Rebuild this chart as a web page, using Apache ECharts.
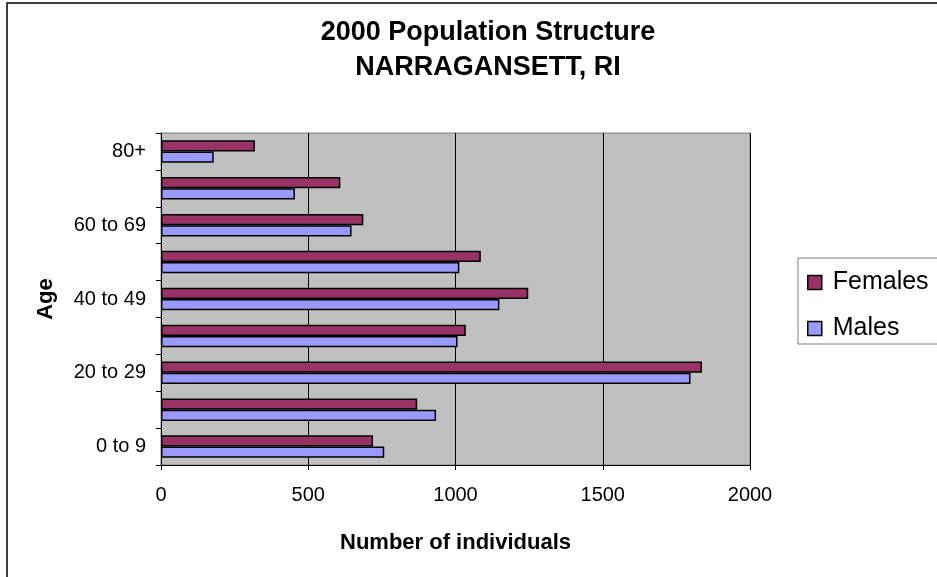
<!DOCTYPE html>
<html>
<head>
<meta charset="utf-8">
<script src="https://cdn.jsdelivr.net/npm/echarts@6/dist/echarts.min.js"></script>
<style>
  html, body { margin: 0; padding: 0; background: #ffffff; }
  #chart { width: 937px; height: 577px; }
</style>
</head>
<body>
<div id="chart"></div>
<script>
// Age groups, youngest at the bottom of the axis
const ageGroups = ['0 to 9', '10 to 19', '20 to 29', '30 to 39', '40 to 49', '50 to 59', '60 to 69', '70 to 79', '80+'];
const females = [720, 870, 1837, 1035, 1247, 1086, 687, 609, 319];
const males = [758, 934, 1798, 1007, 1149, 1013, 647, 455, 179];
const xTicks = [0, 500, 1000, 1500, 2000];

const FONT = '"Liberation Sans", Arial, sans-serif';

const chart = echarts.init(document.getElementById('chart'), null, { renderer: 'canvas' });

chart.setOption({
  backgroundColor: '#ffffff',
  animation: false,
  graphic: [{
    type: 'rect',
    shape: { x: 7, y: 3, width: 1000, height: 1000 },
    style: { fill: 'none', stroke: '#000000', lineWidth: 1.5 },
    silent: true,
    z: 100
  }],
  title: {
    text: '2000 Population Structure\nNARRAGANSETT, RI',
    left: 483,
    top: 10,
    textAlign: 'center',
    textStyle: {
      fontFamily: FONT,
      fontSize: 27,
      fontWeight: 'bold',
      color: '#000000',
      lineHeight: 35
    }
  },
  legend: {
    orient: 'vertical',
    left: 798,
    top: 258,
    data: ['Females', 'Males'],
    backgroundColor: '#ffffff',
    borderColor: '#808080',
    borderWidth: 1,
    borderRadius: 0,
    padding: [12, 40, 3, 9],
    itemWidth: 14,
    itemHeight: 14,
    itemGap: 21,
    icon: 'rect',
    itemStyle: { borderColor: '#000000', borderWidth: 1.5 },
    textStyle: {
      fontFamily: FONT,
      fontSize: 25,
      color: '#000000',
      padding: [0, 0, 0, 6]
    }
  },
  grid: {
    left: 161,
    right: 187,
    top: 133,
    bottom: 112,
    show: true,
    backgroundColor: '#C0C0C0',
    borderColor: '#808080',
    borderWidth: 1
  },
  xAxis: {
    type: 'value',
    min: xTicks[0],
    max: xTicks[xTicks.length - 1],
    interval: xTicks[1] - xTicks[0],
    name: 'Number of individuals',
    nameLocation: 'middle',
    nameGap: 67,
    nameTextStyle: { fontFamily: FONT, fontSize: 22, fontWeight: 'bold', color: '#000000' },
    axisLine: { show: true, lineStyle: { color: '#000000', width: 1 } },
    axisTick: { show: true, length: 5, lineStyle: { color: '#000000' } },
    axisLabel: {
      fontFamily: FONT, fontSize: 20, color: '#000000', margin: 20,
      formatter: (v) => String(v)
    },
    splitLine: { show: true, lineStyle: { color: '#000000', width: 1 } }
  },
  yAxis: {
    type: 'category',
    data: ageGroups,
    name: 'Age',
    nameLocation: 'middle',
    nameGap: 104,
    nameRotate: 90,
    nameTextStyle: { fontFamily: FONT, fontSize: 22, fontWeight: 'bold', color: '#000000' },
    axisLine: { show: true, lineStyle: { color: '#000000', width: 1 } },
    axisTick: { show: true, length: 5, interval: 0, alignWithLabel: false, lineStyle: { color: '#000000' } },
    axisLabel: { interval: 1, fontFamily: FONT, fontSize: 20, color: '#000000', margin: 15 },
    splitLine: { show: false }
  },
  series: [
    {
      name: 'Females',
      type: 'bar',
      data: females,
      barGap: '0%',
      barCategoryGap: '39%',
      itemStyle: { color: '#993366', borderColor: '#000000', borderWidth: 1.5 }
    },
    {
      name: 'Males',
      type: 'bar',
      data: males,
      barGap: '0%',
      barCategoryGap: '39%',
      itemStyle: { color: '#9999FF', borderColor: '#000000', borderWidth: 1.5 }
    }
  ]
});
</script>
</body>
</html>
